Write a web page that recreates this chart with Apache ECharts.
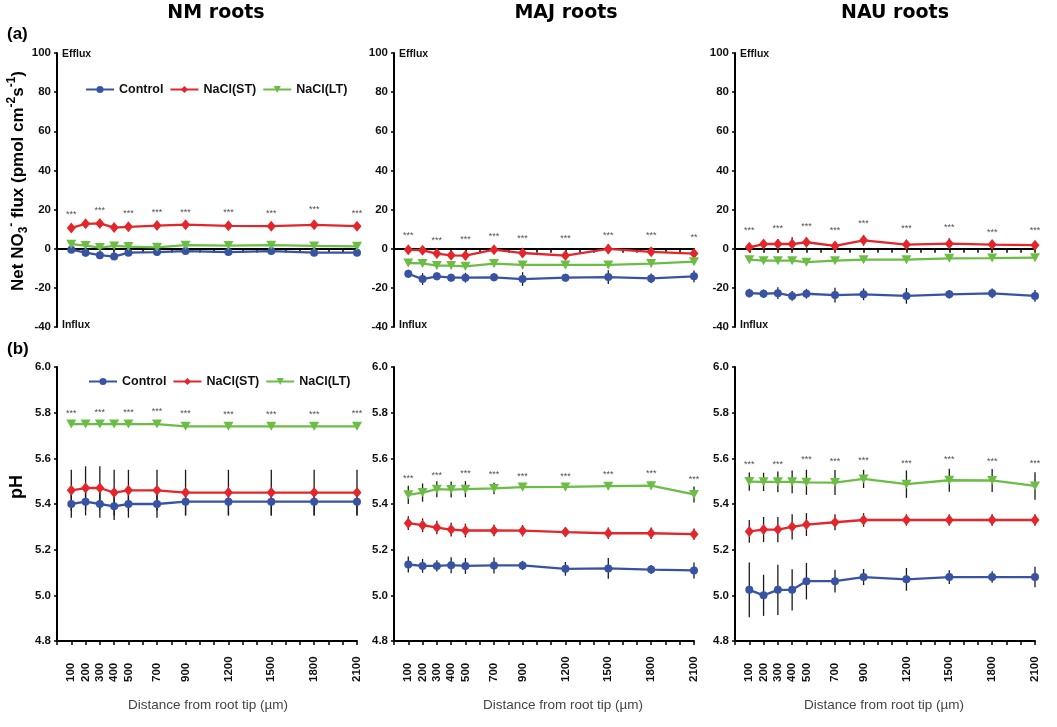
<!DOCTYPE html>
<html><head><meta charset="utf-8">
<script src="https://cdn.jsdelivr.net/npm/echarts@6/dist/echarts.min.js"></script>
<style>html,body{margin:0;padding:0;background:#fff}#c{width:1057px;height:727px}</style>
</head><body><div id="c"></div>
<script>
// ---------- data ----------
const distances = [100, 200, 300, 400, 500, 700, 900, 1200, 1500, 1800, 2100];
const starDistances = [100, 300, 500, 700, 900, 1200, 1500, 1800, 2100];
const seriesNames = ['Control', 'NaCl(ST)', 'NaCl(LT)'];
const panelTitles = ['NM roots', 'MAJ roots', 'NAU roots'];
const xAxisTitle = 'Distance from root tip (µm)';

// (a) Net NO3- flux — NM
const nmFluxControl    = [-0.5, -2, -3.3, -4, -2, -1.7, -1.2, -1.7, -1.2, -2, -2];
const nmFluxControlErr = [1, 2, 1, 1, 1, 1, 1, 1, 1, 1, 1];
const nmFluxST         = [10.6, 12.7, 12.9, 10.8, 11.2, 11.8, 12.3, 11.7, 11.5, 12.2, 11.5];
const nmFluxSTErr      = [1.5, 1.5, 1.5, 1.5, 1.5, 1.5, 1.5, 1.5, 1.5, 1.8, 1.5];
const nmFluxLT         = [2.3, 1.6, 0.6, 1.4, 1.1, 0.7, 1.8, 1.6, 1.8, 1.4, 1.2];
const nmFluxLTErr      = [1, 1, 1, 1, 1, 1, 1, 1, 1, 1, 1];
const nmFluxStarY      = [17.6, 19.7, 18, 18.7, 18.5, 18.7, 18.2, 20, 18.2];
const nmFluxStarText   = ['***', '***', '***', '***', '***', '***', '***', '***', '***'];

// (a) Net NO3- flux — MAJ
const majFluxControl    = [-12.8, -15.5, -14.1, -14.8, -14.8, -14.6, -15.5, -14.8, -14.5, -15.2, -14.1];
const majFluxControlErr = [2, 3, 2, 2, 2.5, 2, 3.5, 2, 3.5, 2.5, 3];
const majFluxST         = [-0.5, -0.8, -2.5, -3.4, -3.5, -0.5, -2.2, -3.5, -0.1, -1.6, -2.5];
const majFluxSTErr      = [1, 1, 1, 1, 1, 1, 1.2, 1, 2.5, 2, 1];
const majFluxLT         = [-7.3, -7.5, -8.6, -8.6, -9, -7.6, -8.3, -8.3, -8.3, -7.6, -6.6];
const majFluxLTErr      = [1.5, 1.5, 1.5, 1.5, 1.5, 1.5, 2, 1.5, 1.5, 1.5, 1.5];
const majFluxStarY      = [6.8, 4.3, 4.7, 6.4, 5.4, 5, 6.8, 6.8, 5.7];
const majFluxStarText   = ['***', '***', '***', '***', '***', '***', '***', '***', '**'];

// (a) Net NO3- flux — NAU
const nauFluxControl    = [-22.7, -23, -22.7, -24.1, -23, -23.7, -23.3, -24.1, -23.3, -22.8, -24.1];
const nauFluxControlErr = [2.2, 2.2, 3, 2.5, 2.5, 3.8, 3, 4, 2.2, 2.5, 3];
const nauFluxST         = [0.7, 2.4, 2.4, 2.4, 3.3, 1.4, 4.3, 2.1, 2.6, 2.1, 1.8];
const nauFluxSTErr      = [2, 1.5, 2.6, 3.4, 2.6, 1.5, 2.7, 1.5, 2.7, 1.5, 1.5];
const nauFluxLT         = [-5.6, -6.1, -6.1, -6.1, -6.9, -6.1, -5.6, -5.6, -4.9, -4.8, -4.6];
const nauFluxLTErr      = [1, 1, 1, 1, 1, 1, 1, 1, 1, 1, 1];
const nauFluxStarY      = [9.1, 10.1, 11.2, 9.1, 12.9, 10.1, 10.8, 8.4, 9.5];
const nauFluxStarText   = ['***', '***', '***', '***', '***', '***', '***', '***', '***'];

// (b) pH — NM
const nmPhControl    = [5.40, 5.41, 5.40, 5.39, 5.40, 5.40, 5.41, 5.41, 5.41, 5.41, 5.41];
const nmPhControlErr = [0.06, 0.06, 0.06, 0.06, 0.06, 0.06, 0.06, 0.06, 0.06, 0.06, 0.06];
const nmPhST         = [5.46, 5.47, 5.47, 5.45, 5.46, 5.46, 5.45, 5.45, 5.45, 5.45, 5.45];
const nmPhSTErr      = [0.09, 0.095, 0.095, 0.1, 0.09, 0.09, 0.1, 0.1, 0.1, 0.1, 0.1];
const nmPhLT         = [5.75, 5.75, 5.75, 5.75, 5.75, 5.75, 5.74, 5.74, 5.74, 5.74, 5.74];
const nmPhLTErr      = [0.005, 0.005, 0.005, 0.005, 0.005, 0.005, 0.005, 0.005, 0.005, 0.005, 0.005];
const nmPhStarY      = [5.796, 5.799, 5.799, 5.803, 5.796, 5.793, 5.793, 5.793, 5.796];
const nmPhStarText   = ['***', '***', '***', '***', '***', '***', '***', '***', '***'];

// (b) pH — MAJ
const majPhControl    = [5.135, 5.129, 5.129, 5.132, 5.129, 5.131, 5.131, 5.116, 5.118, 5.113, 5.109];
const majPhControlErr = [0.035, 0.03, 0.025, 0.035, 0.035, 0.035, 0.02, 0.03, 0.045, 0.02, 0.035];
const majPhST         = [5.316, 5.307, 5.297, 5.288, 5.284, 5.284, 5.283, 5.277, 5.272, 5.272, 5.268];
const majPhSTErr      = [0.03, 0.03, 0.03, 0.03, 0.03, 0.025, 0.025, 0.02, 0.025, 0.025, 0.025];
const majPhLT         = [5.44, 5.45, 5.465, 5.463, 5.465, 5.468, 5.474, 5.475, 5.478, 5.48, 5.442];
const majPhLTErr      = [0.04, 0.04, 0.035, 0.035, 0.035, 0.025, 0.015, 0.015, 0.015, 0.015, 0.035];
const majPhStarY      = [5.51, 5.526, 5.532, 5.529, 5.52, 5.52, 5.527, 5.532, 5.506];
const majPhStarText   = ['***', '***', '***', '***', '***', '***', '***', '***', '***'];

// (b) pH — NAU
const nauPhControl    = [5.024, 5.00, 5.024, 5.024, 5.062, 5.062, 5.08, 5.07, 5.08, 5.08, 5.08];
const nauPhControlErr = [0.12, 0.09, 0.11, 0.09, 0.08, 0.05, 0.035, 0.05, 0.03, 0.025, 0.045];
const nauPhST         = [5.28, 5.288, 5.288, 5.30, 5.31, 5.32, 5.33, 5.33, 5.33, 5.33, 5.33];
const nauPhSTErr      = [0.05, 0.055, 0.055, 0.055, 0.05, 0.035, 0.03, 0.025, 0.025, 0.025, 0.025];
const nauPhLT         = [5.498, 5.497, 5.497, 5.497, 5.495, 5.494, 5.51, 5.487, 5.504, 5.503, 5.479];
const nauPhLTErr      = [0.04, 0.04, 0.045, 0.05, 0.055, 0.055, 0.04, 0.06, 0.05, 0.05, 0.06];
const nauPhStarY      = [5.573, 5.573, 5.596, 5.584, 5.59, 5.577, 5.593, 5.587, 5.577];
const nauPhStarText   = ['***', '***', '***', '***', '***', '***', '***', '***', '***'];

// ---------- build ----------
const panels = [
  { vals: [nmFluxControl, nmFluxST, nmFluxLT], errs: [nmFluxControlErr, nmFluxSTErr, nmFluxLTErr], starY: nmFluxStarY, starText: nmFluxStarText },
  { vals: [majFluxControl, majFluxST, majFluxLT], errs: [majFluxControlErr, majFluxSTErr, majFluxLTErr], starY: majFluxStarY, starText: majFluxStarText },
  { vals: [nauFluxControl, nauFluxST, nauFluxLT], errs: [nauFluxControlErr, nauFluxSTErr, nauFluxLTErr], starY: nauFluxStarY, starText: nauFluxStarText },
  { vals: [nmPhControl, nmPhST, nmPhLT], errs: [nmPhControlErr, nmPhSTErr, nmPhLTErr], starY: nmPhStarY, starText: nmPhStarText },
  { vals: [majPhControl, majPhST, majPhLT], errs: [majPhControlErr, majPhSTErr, majPhLTErr], starY: majPhStarY, starText: majPhStarText },
  { vals: [nauPhControl, nauPhST, nauPhLT], errs: [nauPhControlErr, nauPhSTErr, nauPhLTErr], starY: nauPhStarY, starText: nauPhStarText }
];

const colors = ['#3853a4', '#e3262b', '#6cbd45'];
const symbols = ['circle', 'diamond', 'path://M0,0 L10,0 L5,9 Z'];
const symbolSizes = [8, [9, 11], [10, 9]];
const gridLefts = [57, 394, 735];
const gridWidth = 300;
const FONT = 'Liberation Sans, Arial, sans-serif';

const grids = [], xAxes = [], yAxes = [], series = [];
for (let p = 0; p < 6; p++) {
  const top = p < 3;
  grids.push({ left: gridLefts[p % 3], width: gridWidth, top: top ? 53 : 367, height: 274 });
  xAxes.push({
    type: 'value', gridIndex: p, min: 0, max: 2100, interval: 100,
    axisLine: { show: true, onZero: true, lineStyle: { color: '#000', width: 2 } },
    axisTick: { show: true, length: 4, lineStyle: { color: '#000', width: 1.5 } },
    splitLine: { show: false },
    axisLabel: top ? { show: false } : {
      show: true, rotate: 90, align: 'left', margin: 41,
      fontFamily: FONT, fontWeight: 'bold', fontSize: 11.5, color: '#111',
      formatter: v => distances.indexOf(Math.round(v)) >= 0 ? String(Math.round(v)) : ''
    }
  });
  yAxes.push({
    type: 'value', gridIndex: p,
    min: top ? -40 : 4.8, max: top ? 100 : 6.0, interval: top ? 20 : 0.2,
    axisLine: { show: true, onZero: false, lineStyle: { color: '#000', width: 2 } },
    axisTick: { show: true, length: 3, lineStyle: { color: '#000', width: 1.5 } },
    splitLine: { show: false },
    axisLabel: {
      margin: 6, fontFamily: FONT, fontWeight: 'bold', fontSize: 11.5, color: '#111',
      formatter: v => top ? String(Math.round(v)) : Number(v).toFixed(1)
    }
  });
  const pan = panels[p];
  // error bars
  for (let g = 0; g < 3; g++) {
    series.push({
      type: 'custom', xAxisIndex: p, yAxisIndex: p, z: 2, silent: true,
      data: distances.map((d, i) => [d, pan.vals[g][i] - pan.errs[g][i], pan.vals[g][i] + pan.errs[g][i]]),
      encode: { x: 0, y: [1, 2] },
      renderItem: (params, api) => {
        const a = api.coord([api.value(0), api.value(1)]);
        const b = api.coord([api.value(0), api.value(2)]);
        return { type: 'line', shape: { x1: a[0], y1: a[1], x2: b[0], y2: b[1] },
                 style: { stroke: '#1a1a1a', lineWidth: 1.3 } };
      }
    });
  }
  for (let g = 0; g < 3; g++) {
    series.push({
      name: seriesNames[g], type: 'line', xAxisIndex: p, yAxisIndex: p, z: 3,
      data: distances.map((d, i) => [d, pan.vals[g][i]]),
      symbol: symbols[g], symbolSize: symbolSizes[g], showSymbol: true,
      lineStyle: { color: colors[g], width: 2.3 },
      itemStyle: { color: colors[g] },
      animation: false
    });
  }
  series.push({
    type: 'scatter', xAxisIndex: p, yAxisIndex: p, z: 4, silent: true,
    data: starDistances.map((d, i) => [d, pan.starY[i], pan.starText[i]]),
    symbol: 'circle', symbolSize: 1, itemStyle: { color: 'rgba(0,0,0,0)' },
    label: { show: true, position: 'inside', formatter: q => q.value[2],
             fontFamily: FONT, fontSize: 9, color: '#222' }
  });
}

const graphics = [];
const titleCenters = [216, 566, 895];
panelTitles.forEach((t, i) => graphics.push({
  type: 'text', x: titleCenters[i], y: 13,
  style: { text: t, font: 'bold 19px "DejaVu Sans"', fill: '#000', align: 'center', verticalAlign: 'middle', textAlign: 'center', textVerticalAlign: 'middle' }
}));
graphics.push({ type: 'text', x: 7, y: 34, style: { text: '(a)', font: 'bold 17px "Liberation Sans"', fill: '#000', verticalAlign: 'middle', textVerticalAlign: 'middle' } });
graphics.push({ type: 'text', x: 7, y: 349, style: { text: '(b)', font: 'bold 17px "Liberation Sans"', fill: '#000', verticalAlign: 'middle', textVerticalAlign: 'middle' } });
gridLefts.forEach(l => {
  graphics.push({ type: 'text', x: l + 5, y: 54, style: { text: 'Efflux', font: 'bold 10.5px "Liberation Sans"', fill: '#111', verticalAlign: 'middle', textVerticalAlign: 'middle' } });
  graphics.push({ type: 'text', x: l + 5, y: 325, style: { text: 'Influx', font: 'bold 10.5px "Liberation Sans"', fill: '#111', verticalAlign: 'middle', textVerticalAlign: 'middle' } });
});
const xTitleCenters = [208, 563, 884];
xTitleCenters.forEach(cx => graphics.push({
  type: 'text', x: cx, y: 705,
  style: { text: xAxisTitle, font: '13.5px "Liberation Sans"', fill: '#444', align: 'center', verticalAlign: 'middle', textAlign: 'center', textVerticalAlign: 'middle' }
}));
graphics.push({
  type: 'text', x: 18, y: 181, rotation: Math.PI / 2,
  style: {
    text: '{a|Net NO}{b|3}{c|-}{a| flux (pmol cm}{c|-2}{a|s}{c|-1}{a|)}',
    align: 'center', verticalAlign: 'middle', textAlign: 'center', textVerticalAlign: 'middle',
    rich: {
      a: { fontFamily: 'Liberation Sans', fontWeight: 'bold', fontSize: 17, lineHeight: 24, verticalAlign: 'middle', fill: '#000', color: '#000' },
      b: { fontFamily: 'Liberation Sans', fontWeight: 'bold', fontSize: 12, lineHeight: 24, verticalAlign: 'bottom', fill: '#000', color: '#000' },
      c: { fontFamily: 'Liberation Sans', fontWeight: 'bold', fontSize: 12, lineHeight: 24, verticalAlign: 'top', fill: '#000', color: '#000' }
    }
  }
});
graphics.push({
  type: 'text', x: 17, y: 487, rotation: Math.PI / 2,
  style: { text: 'pH', font: 'bold 18px "Liberation Sans"', fill: '#000', align: 'center', verticalAlign: 'middle', textAlign: 'center', textVerticalAlign: 'middle' }
});

const legendCommon = {
  data: seriesNames, orient: 'horizontal', itemWidth: 28, itemHeight: 9, itemGap: 6,
  textStyle: { fontFamily: FONT, fontWeight: 'bold', fontSize: 12.5, color: '#111' },
  selectedMode: false
};

const option = {
  backgroundColor: '#fff',
  animation: false,
  grid: grids, xAxis: xAxes, yAxis: yAxes, series: series,
  legend: [
    Object.assign({ left: 80, top: 78 }, legendCommon),
    Object.assign({ left: 83, top: 370 }, legendCommon)
  ],
  graphic: graphics
};
const chart = echarts.init(document.getElementById('c'), null, { renderer: 'canvas' });
chart.setOption(option);
</script>
</body></html>
